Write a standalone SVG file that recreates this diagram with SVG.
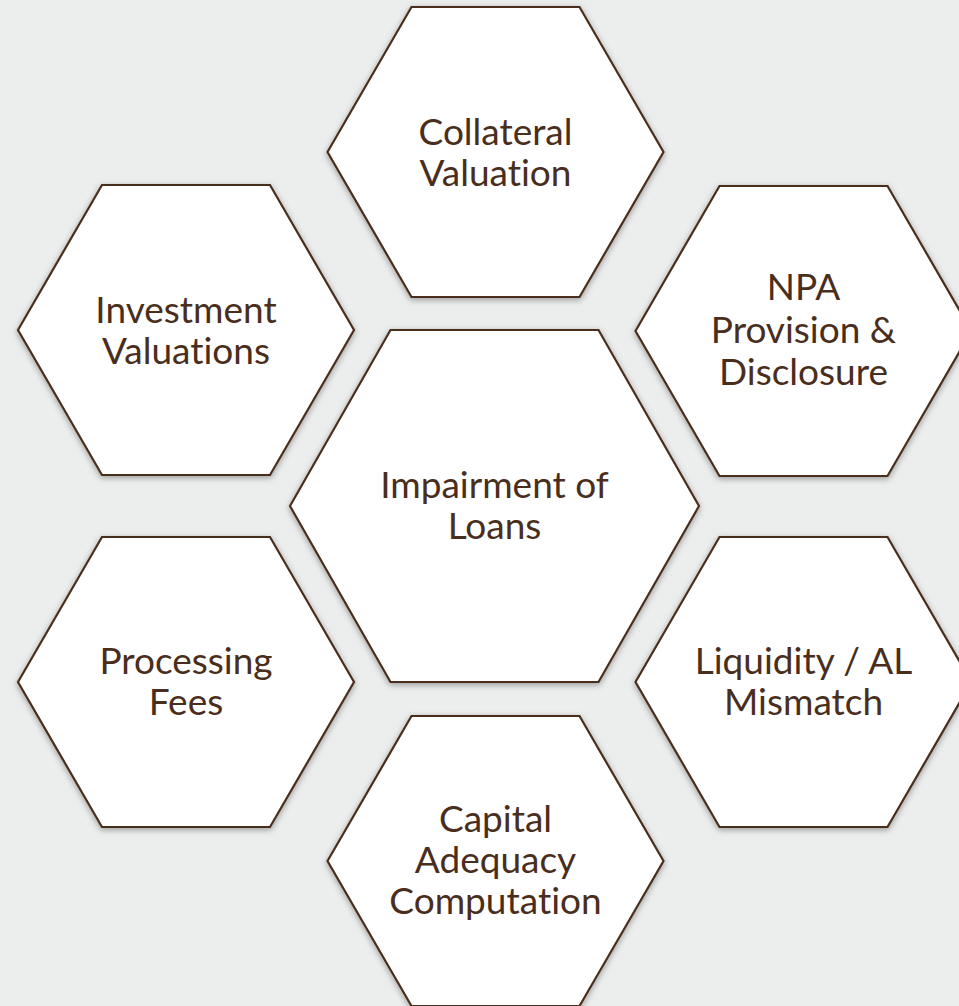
<svg xmlns="http://www.w3.org/2000/svg" width="959" height="1006" viewBox="0 0 959 1006">
  <defs>
    <filter id="shadow" x="-10%" y="-10%" width="120%" height="120%">
      <feDropShadow dx="0" dy="2" stdDeviation="3" flood-color="#000" flood-opacity="0.35"/>
    </filter>
    <!-- outer hexagon centred on origin -->
    <polygon id="hex-outer" points="-168,0 -84,-145 84,-145 168,0 84,145 -84,145"/>
    <polygon id="hex-centre" points="-204.5,0 -104,-176 104,-176 204.5,0 104,176 -104,176"/>
  </defs>
  <style>
    .hex { fill: #ffffff; stroke: #4a2e1d; stroke-width: 2.2; filter: url(#shadow); }
    .label { font-family: Lato, "Liberation Sans", sans-serif; font-size: 37px; fill: #4a2e1d; text-anchor: middle; font-variant-ligatures: none; }
  </style>

  <rect width="959" height="1006" fill="#eceeed"/>

  <!-- no connectors: hexagons only touch -->
  <g id="connectors"/>

  <g id="collateral-valuation" transform="translate(495.5,152)">
    <use href="#hex-outer" class="hex"/>
    <text class="label"><tspan x="0" y="-7">Collateral</tspan><tspan x="0" y="34">Valuation</tspan></text>
  </g>

  <g id="investment-valuations" transform="translate(186,330)">
    <use href="#hex-outer" class="hex"/>
    <text class="label"><tspan x="0" y="-7">Investment</tspan><tspan x="0" y="34">Valuations</tspan></text>
  </g>

  <g id="npa-provision" transform="translate(803.5,331)">
    <use href="#hex-outer" class="hex"/>
    <text class="label"><tspan x="0" y="-31">NPA</tspan><tspan x="0" y="12">Provision &amp;</tspan><tspan x="0" y="54">Disclosure</tspan></text>
  </g>

  <g id="impairment-of-loans" transform="translate(494.5,506)">
    <use href="#hex-centre" class="hex"/>
    <text class="label"><tspan x="0" y="-8">Impairment of</tspan><tspan x="0" y="33">Loans</tspan></text>
  </g>

  <g id="processing-fees" transform="translate(186,682)">
    <use href="#hex-outer" class="hex"/>
    <text class="label"><tspan x="0" y="-8">Processing</tspan><tspan x="0" y="33">Fees</tspan></text>
  </g>

  <g id="liquidity-mismatch" transform="translate(803.5,682)">
    <use href="#hex-outer" class="hex"/>
    <text class="label"><tspan x="0" y="-8">Liquidity / AL</tspan><tspan x="0" y="33">Mismatch</tspan></text>
  </g>

  <g id="capital-adequacy" transform="translate(495.5,861)">
    <use href="#hex-outer" class="hex"/>
    <text class="label"><tspan x="0" y="-29">Capital</tspan><tspan x="0" y="12">Adequacy</tspan><tspan x="0" y="53">Computation</tspan></text>
  </g>
</svg>
